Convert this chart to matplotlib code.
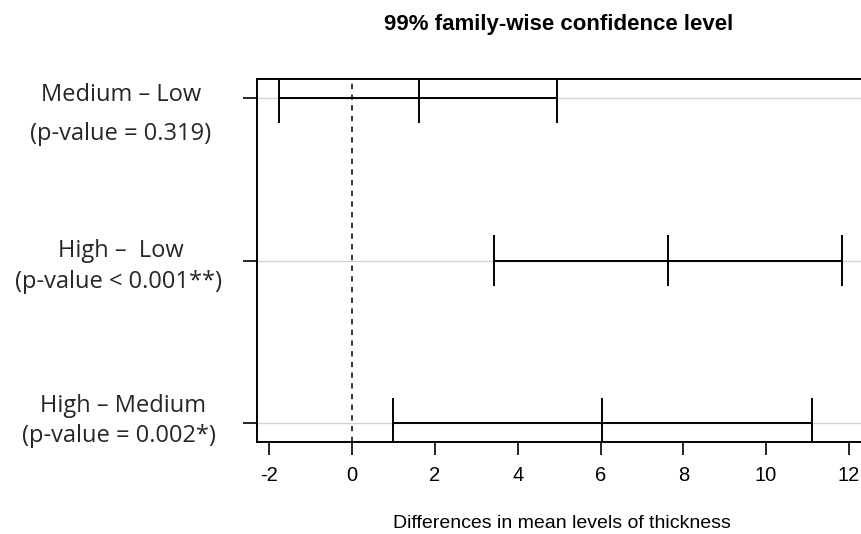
import numpy as np
import matplotlib.pyplot as plt
from matplotlib import transforms

# Tukey HSD comparisons (top to bottom)
comparisons = ["Medium \u2013 Low", "High \u2013  Low", "High \u2013 Medium"]
p_labels = ["(p-value = 0.319)", "(p-value < 0.001**)", "(p-value = 0.002*)"]
diff = [1.62, 7.63, 6.04]
lwr = [-1.76, 3.43, 0.99]
upr = [4.95, 11.84, 11.11]
xticks = [-2, 0, 2, 4, 6, 8, 10, 12]

fig = plt.figure(figsize=(8.61, 5.34), dpi=100)
ax = fig.add_axes([257 / 861, 1 - 442 / 534, (864.6 - 257) / 861, (442 - 79) / 534])

n = len(comparisons)
rows = np.arange(n, 0, -1)

for y in rows:
    ax.axhline(y, color="lightgray", lw=1.0, zorder=1)
ax.axvline(0, color="black", lw=1.1, ls=(0, (3.5, 3.5)), zorder=2)

ax.hlines(rows, lwr, upr, color="black", lw=1.4, zorder=3)
cap = 0.155
for vals in (lwr, diff, upr):
    ax.vlines(vals, rows - cap, rows + cap, color="black", lw=1.4, zorder=3)

ax.set_xlim(-2.30, 12.38)
ax.set_ylim(0.883, 3.117)
ax.set_xticks(xticks)
ax.set_xticklabels([str(t) for t in xticks], fontsize=14.5, family="Liberation Sans")
ax.set_yticks(rows)
ax.set_yticklabels([])
ax.tick_params(axis="x", length=9, width=1.2, pad=8)
ax.tick_params(axis="y", length=10, width=1.2)
for s in ax.spines.values():
    s.set_linewidth(1.4)

ax.set_xlabel("Differences in mean levels of thickness", fontsize=14,
              family="Liberation Sans", va="baseline")
ax.xaxis.set_label_coords(0.502, -(528.3 - 442) / 363)

ax.set_title("99% family-wise confidence level", fontsize=16, fontweight="bold",
             family="Liberation Sans", pad=35, x=0.496)

# two-line row labels on the left: baseline offsets (px below the row) per line
line1_off = [2.7, -4, -11]
line2_off = [42, 27, 19]
line1_x = [121.5, 120.8, 122.7]
line2_x = [120.5, 118.5, 118.5]
base = transforms.blended_transform_factory(fig.transFigure, ax.transData)
for y, c, p, o1, o2, x1, x2 in zip(rows, comparisons, p_labels,
                                   line1_off, line2_off, line1_x, line2_x):
    for txt, off, xx in ((c, o1, x1), (p, o2, x2)):
        tr = base + transforms.ScaledTranslation(0, -off / 100, fig.dpi_scale_trans)
        ax.text(xx / 861, y, txt, transform=tr, ha="center", va="baseline",
                fontsize=17, family="Open Sans", color="#262626", clip_on=False)

fig.savefig("out.png", dpi=100)
